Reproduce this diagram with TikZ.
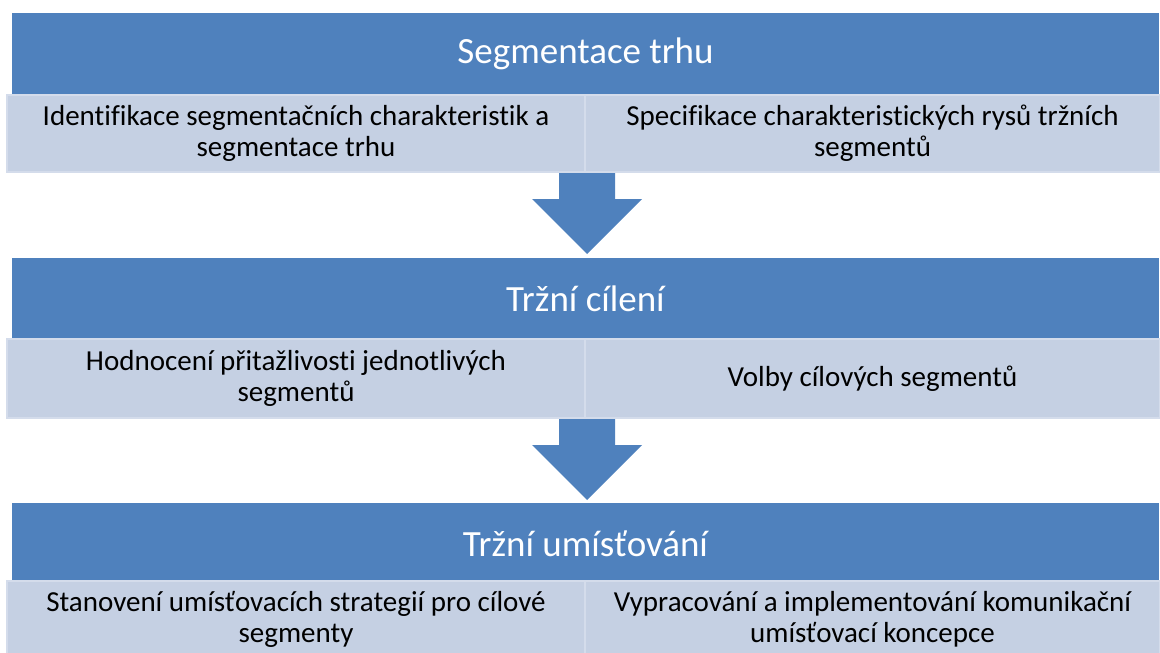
\documentclass[tikz,border=0pt]{standalone}
\usepackage{fontspec}
\setmainfont{Carlito}[Ligatures={NoCommon}]
\usepackage{tikz}
\usetikzlibrary{calc}
\definecolor{stepblue}{RGB}{79,129,189}
\definecolor{cellfill}{RGB}{197,208,227}
\definecolor{cellline}{RGB}{212,220,235}

\tikzset{
  headbox/.style={fill=stepblue, inner sep=0pt, minimum width=1147pt, minimum height=82pt, text=white, font=\fontsize{37}{44}\selectfont},
  cellbox/.style={fill=cellfill, draw=cellline, line width=2pt, inner sep=0pt, align=center, font=\fontsize{29}{31}\selectfont},
  downarrow/.style={fill=stepblue}
}

\begin{document}
\begin{tikzpicture}[x=1pt, y=-1pt]
\useasboundingbox (0,0) rectangle (1160,653);

% Three stages with their two steps each
\node[headbox] (seg) at (585.5,54) {Segmentace trhu};
\node[cellbox, minimum width=578pt, minimum height=77pt] (segL) at (296,133.5) {Identifikace segmentačních charakteristik a\\segmentace trhu};
\node[cellbox, minimum width=575pt, minimum height=77pt] (segR) at (872.5,133.5) {Specifikace charakteristických rysů tržních\\segmentů};

\node[headbox] (cil) at (585.5,299) {Tržní cílení};
\node[cellbox, minimum width=578pt, minimum height=79pt] (cilL) at (296,378.5) {Hodnocení přitažlivosti jednotlivých\\segmentů};
\node[cellbox, minimum width=575pt, minimum height=79pt] (cilR) at (872.5,378.5) {Volby cílových segmentů};

\node[headbox] (umi) at (585.5,544) {Tržní umísťování};
\node[cellbox, minimum width=578pt, minimum height=77pt] (umiL) at (296,619.5) {Stanovení umísťovacích strategií pro cílové\\segmenty};
\node[cellbox, minimum width=575pt, minimum height=77pt] (umiR) at (872.5,619.5) {Vypracování a implementování komunikační\\umísťovací koncepce};

% Block arrows between the stages
\coordinate (a1) at ($(segL.south east)+(1,0)$);
\coordinate (a2) at ($(cilL.south east)+(1,0)$);
\foreach \a in {a1,a2}
  \fill[downarrow] ($(\a)+(-28,0)$) -- ++(0,26) -- ++(-27,0) -- ++(55,55) -- ++(55,-55) -- ++(-27,0) -- ++(0,-26) -- cycle;
\end{tikzpicture}
\end{document}
